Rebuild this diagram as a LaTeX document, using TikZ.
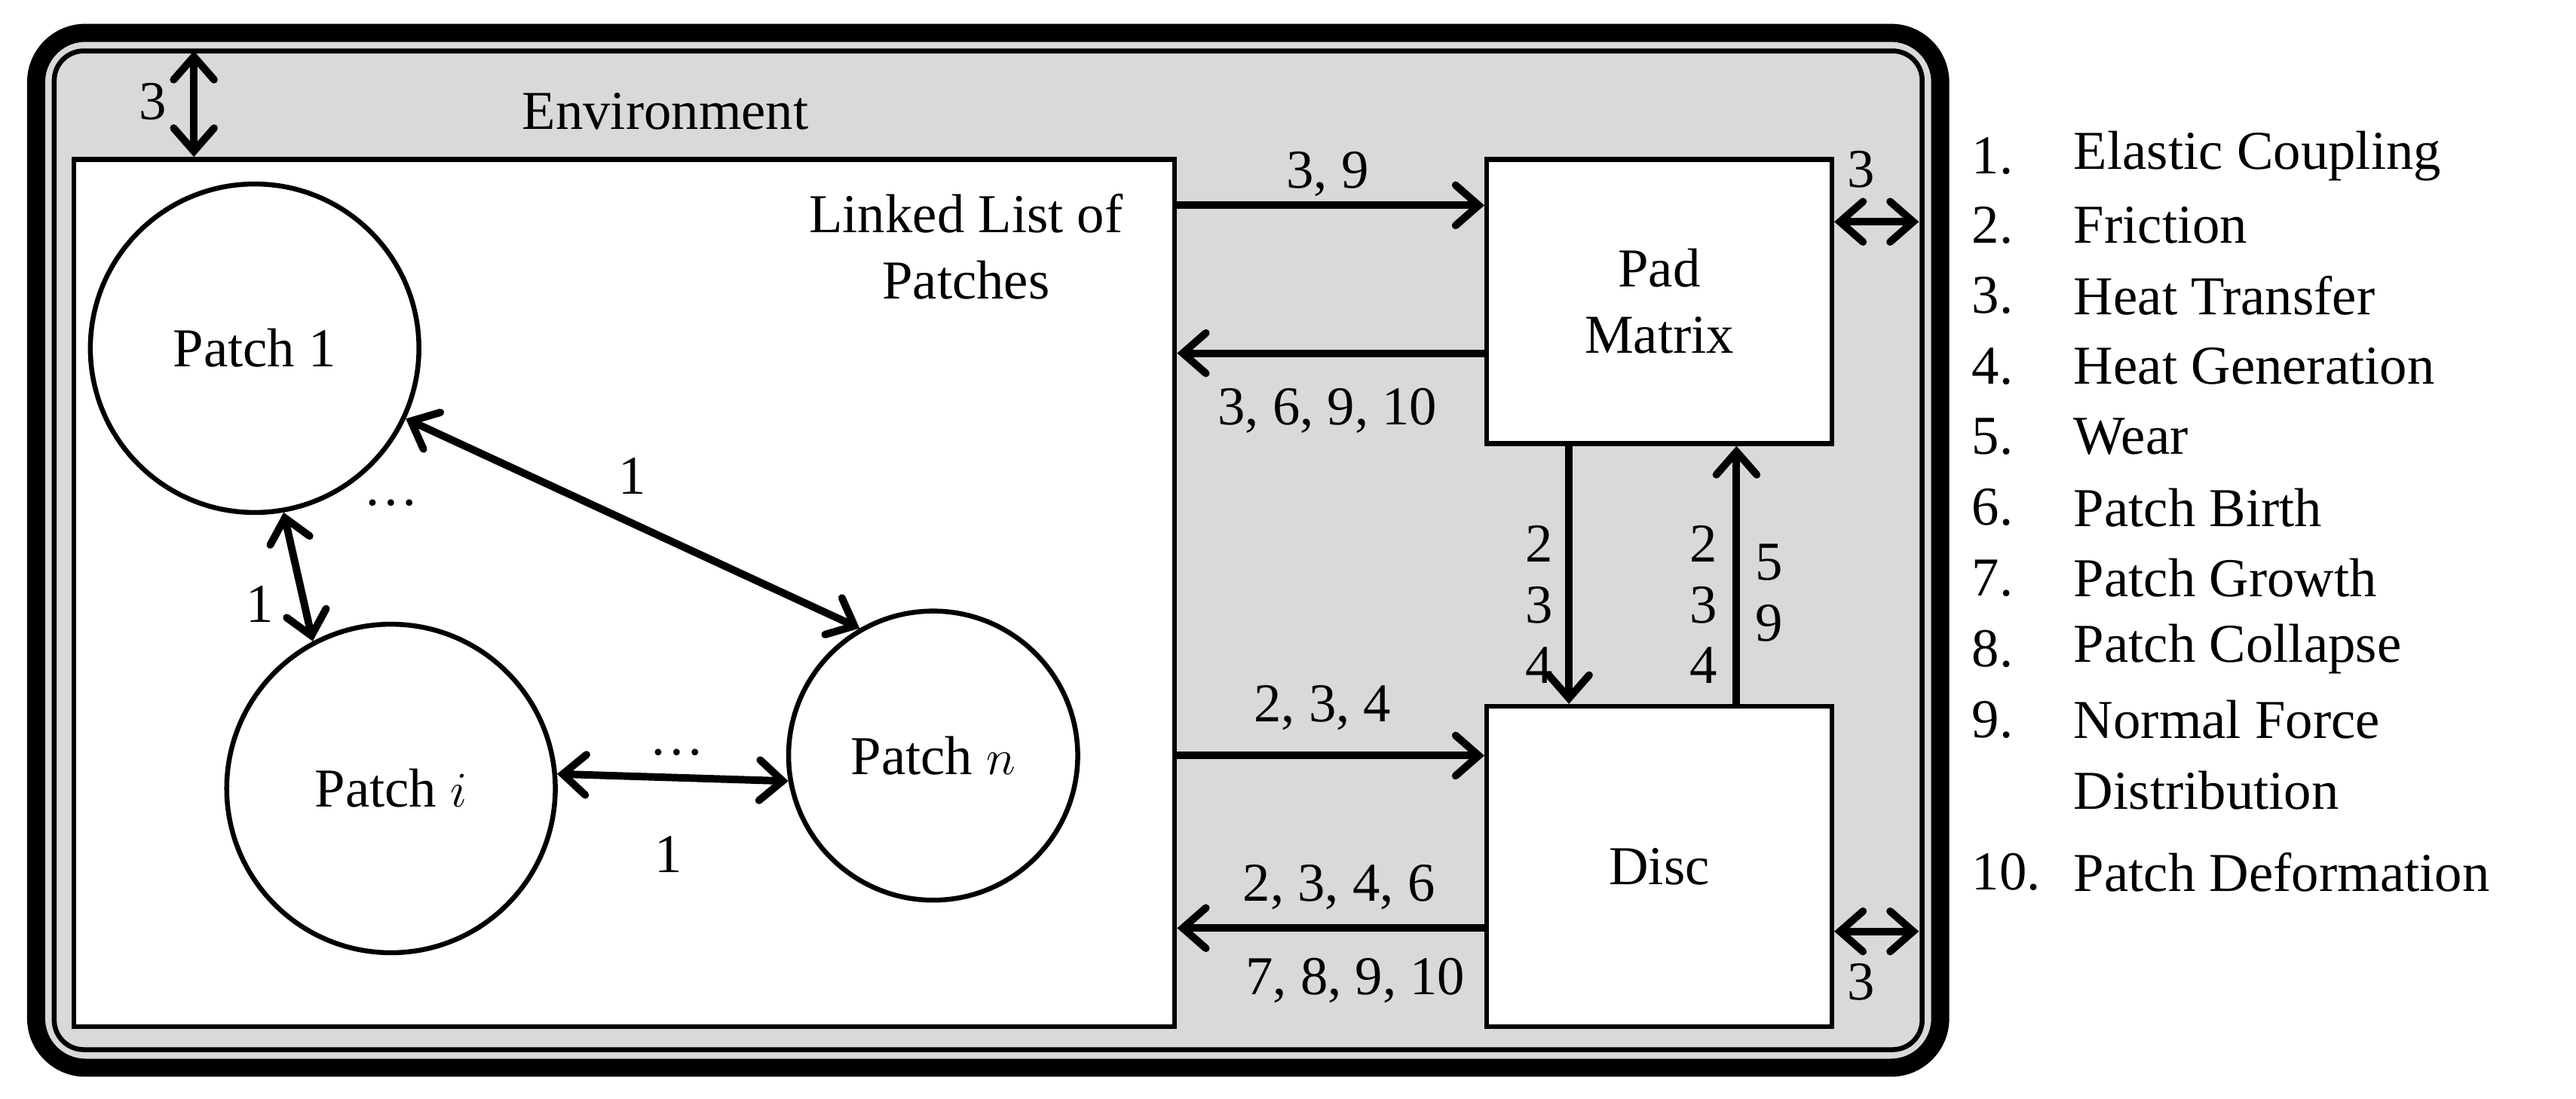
\documentclass[tikz,border=0pt]{standalone}
\usepackage{fontspec}
\setmainfont{Liberation Serif}
\usetikzlibrary{arrows.meta}
\newlength{\du}
\setlength{\du}{0.02cm}
\tikzset{
  flow/.style={line width=2.6pt,{Straight Barb[length=8pt,width=14pt,line cap=round]}-{Straight Barb[length=8pt,width=14pt,line cap=round]}},
  oneway/.style={line width=2.6pt,-{Straight Barb[length=8pt,width=14pt,line cap=round]}},
  block/.style={draw,line width=1.7pt,fill=white,inner sep=0pt},
  patch/.style={draw,circle,line width=1.7pt,fill=white,inner sep=0pt},
  lbl/.style={inner sep=1pt,align=center}
}
\begin{document}
\begin{tikzpicture}[font=\fontsize{19}{23}\selectfont]
\pgftransformyscale{-1.000000}
\useasboundingbox (0\du,0\du) rectangle (1568\du,669\du);
\definecolor{envgray}{rgb}{0.851, 0.851, 0.851}
% environment frame
\draw[line width=11\du,fill=envgray,rounded corners=30\du] (22\du,20\du) rectangle (1181\du,650\du);
\draw[line width=1.7pt,rounded corners=18\du] (33\du,31\du) rectangle (1170\du,639\du);
\node (env) at (405\du,68\du){Environment};
% linked list and subsystems
\node[block,minimum width=670\du,minimum height=528\du] (ll) at (380\du,361\du){};
\node[lbl] (lltxt) at (588\du,150\du){Linked List of\\Patches};
\node[block,minimum width=210\du,minimum height=173\du,align=center] (pad) at (1010\du,183.5\du){Pad\\Matrix};
\node[block,minimum width=210\du,minimum height=195\du] (disc) at (1010\du,527.5\du){Disc};
% patches
\node[patch,minimum size=200\du] (p1) at (155\du,212\du){Patch 1};
\node[patch,minimum size=200\du] (pi) at (238\du,480\du){Patch $i$};
\node[patch,minimum size=176\du] (pn) at (568\du,460\du){Patch $n$};
\node (dots1) at (238\du,306\du){\dots};
\node (dots2) at (412\du,458\du){\dots};
\draw[flow] (p1.-25) -- (pn.120);
\node (l1) at (385\du,290\du){1};
\draw[flow] (p1.-80) -- (pi.118);
\node (l2) at (158\du,368\du){1};
\draw[flow] (pi.5) -- (pn.190);
\node (l3) at (407\du,520\du){1};
% coupling between subsystems
\coordinate (ya) at (0\du,125\du);
\coordinate (yb) at (0\du,215\du);
\coordinate (yc) at (0\du,460\du);
\coordinate (yd) at (0\du,565\du);
\coordinate (xa) at (955\du,0\du);
\coordinate (xb) at (1057\du,0\du);
\draw[oneway] (ll.east |- ya) -- (pad.west |- ya);
\node (t1) at (808\du,106\du){3, 9};
\draw[oneway] (pad.west |- yb) -- (ll.east |- yb);
\node (t2) at (808\du,250\du){3, 6, 9, 10};
\draw[oneway] (ll.east |- yc) -- (disc.west |- yc);
\node (t3) at (805\du,431\du){2, 3, 4};
\draw[oneway] (disc.west |- yd) -- (ll.east |- yd);
\node (t4) at (815\du,540\du){2, 3, 4, 6};
\node (t5) at (825\du,597\du){7, 8, 9, 10};
\draw[oneway] (pad.south -| xa) -- (disc.north -| xa);
\node[lbl] (t6) at (937\du,368\du){2\\[-2pt]3\\[-2pt]4};
\draw[oneway] (disc.north -| xb) -- (pad.south -| xb);
\node[lbl] (t7) at (1037\du,368\du){2\\[-2pt]3\\[-2pt]4};
\node[lbl] (t8) at (1077\du,361\du){5\\[-2pt]9};
% exchange with environment
\coordinate (et) at (118\du,31\du);
\coordinate (ep) at (1168\du,135\du);
\coordinate (ed) at (1168\du,567\du);
\draw[flow] (et) -- (ll.north -| et);
\node (e1) at (93\du,62\du){3};
\draw[flow] (pad.east |- ep) -- (ep);
\node (e2) at (1133\du,103\du){3};
\draw[flow] (disc.east |- ed) -- (ed);
\node (e3) at (1133\du,598\du){3};
% legend
\foreach \n/\txt/\y in {1./Elastic Coupling/95, 2./Friction/137, 3./Heat Transfer/180,
  4./Heat Generation/223, 5./Wear/266, 6./Patch Birth/309, 7./Patch Growth/352,
  8./Patch Collapse/395, 9./Normal Force/438, /Distribution/481, 10./Patch Deformation/531}
{
  \node[anchor=west,inner sep=0pt] (num\y) at (1200\du,\y\du){\n};
  \node[anchor=west,inner sep=0pt] (item\y) at (1262\du,\y\du){\txt};
}
\end{tikzpicture}
\end{document}
